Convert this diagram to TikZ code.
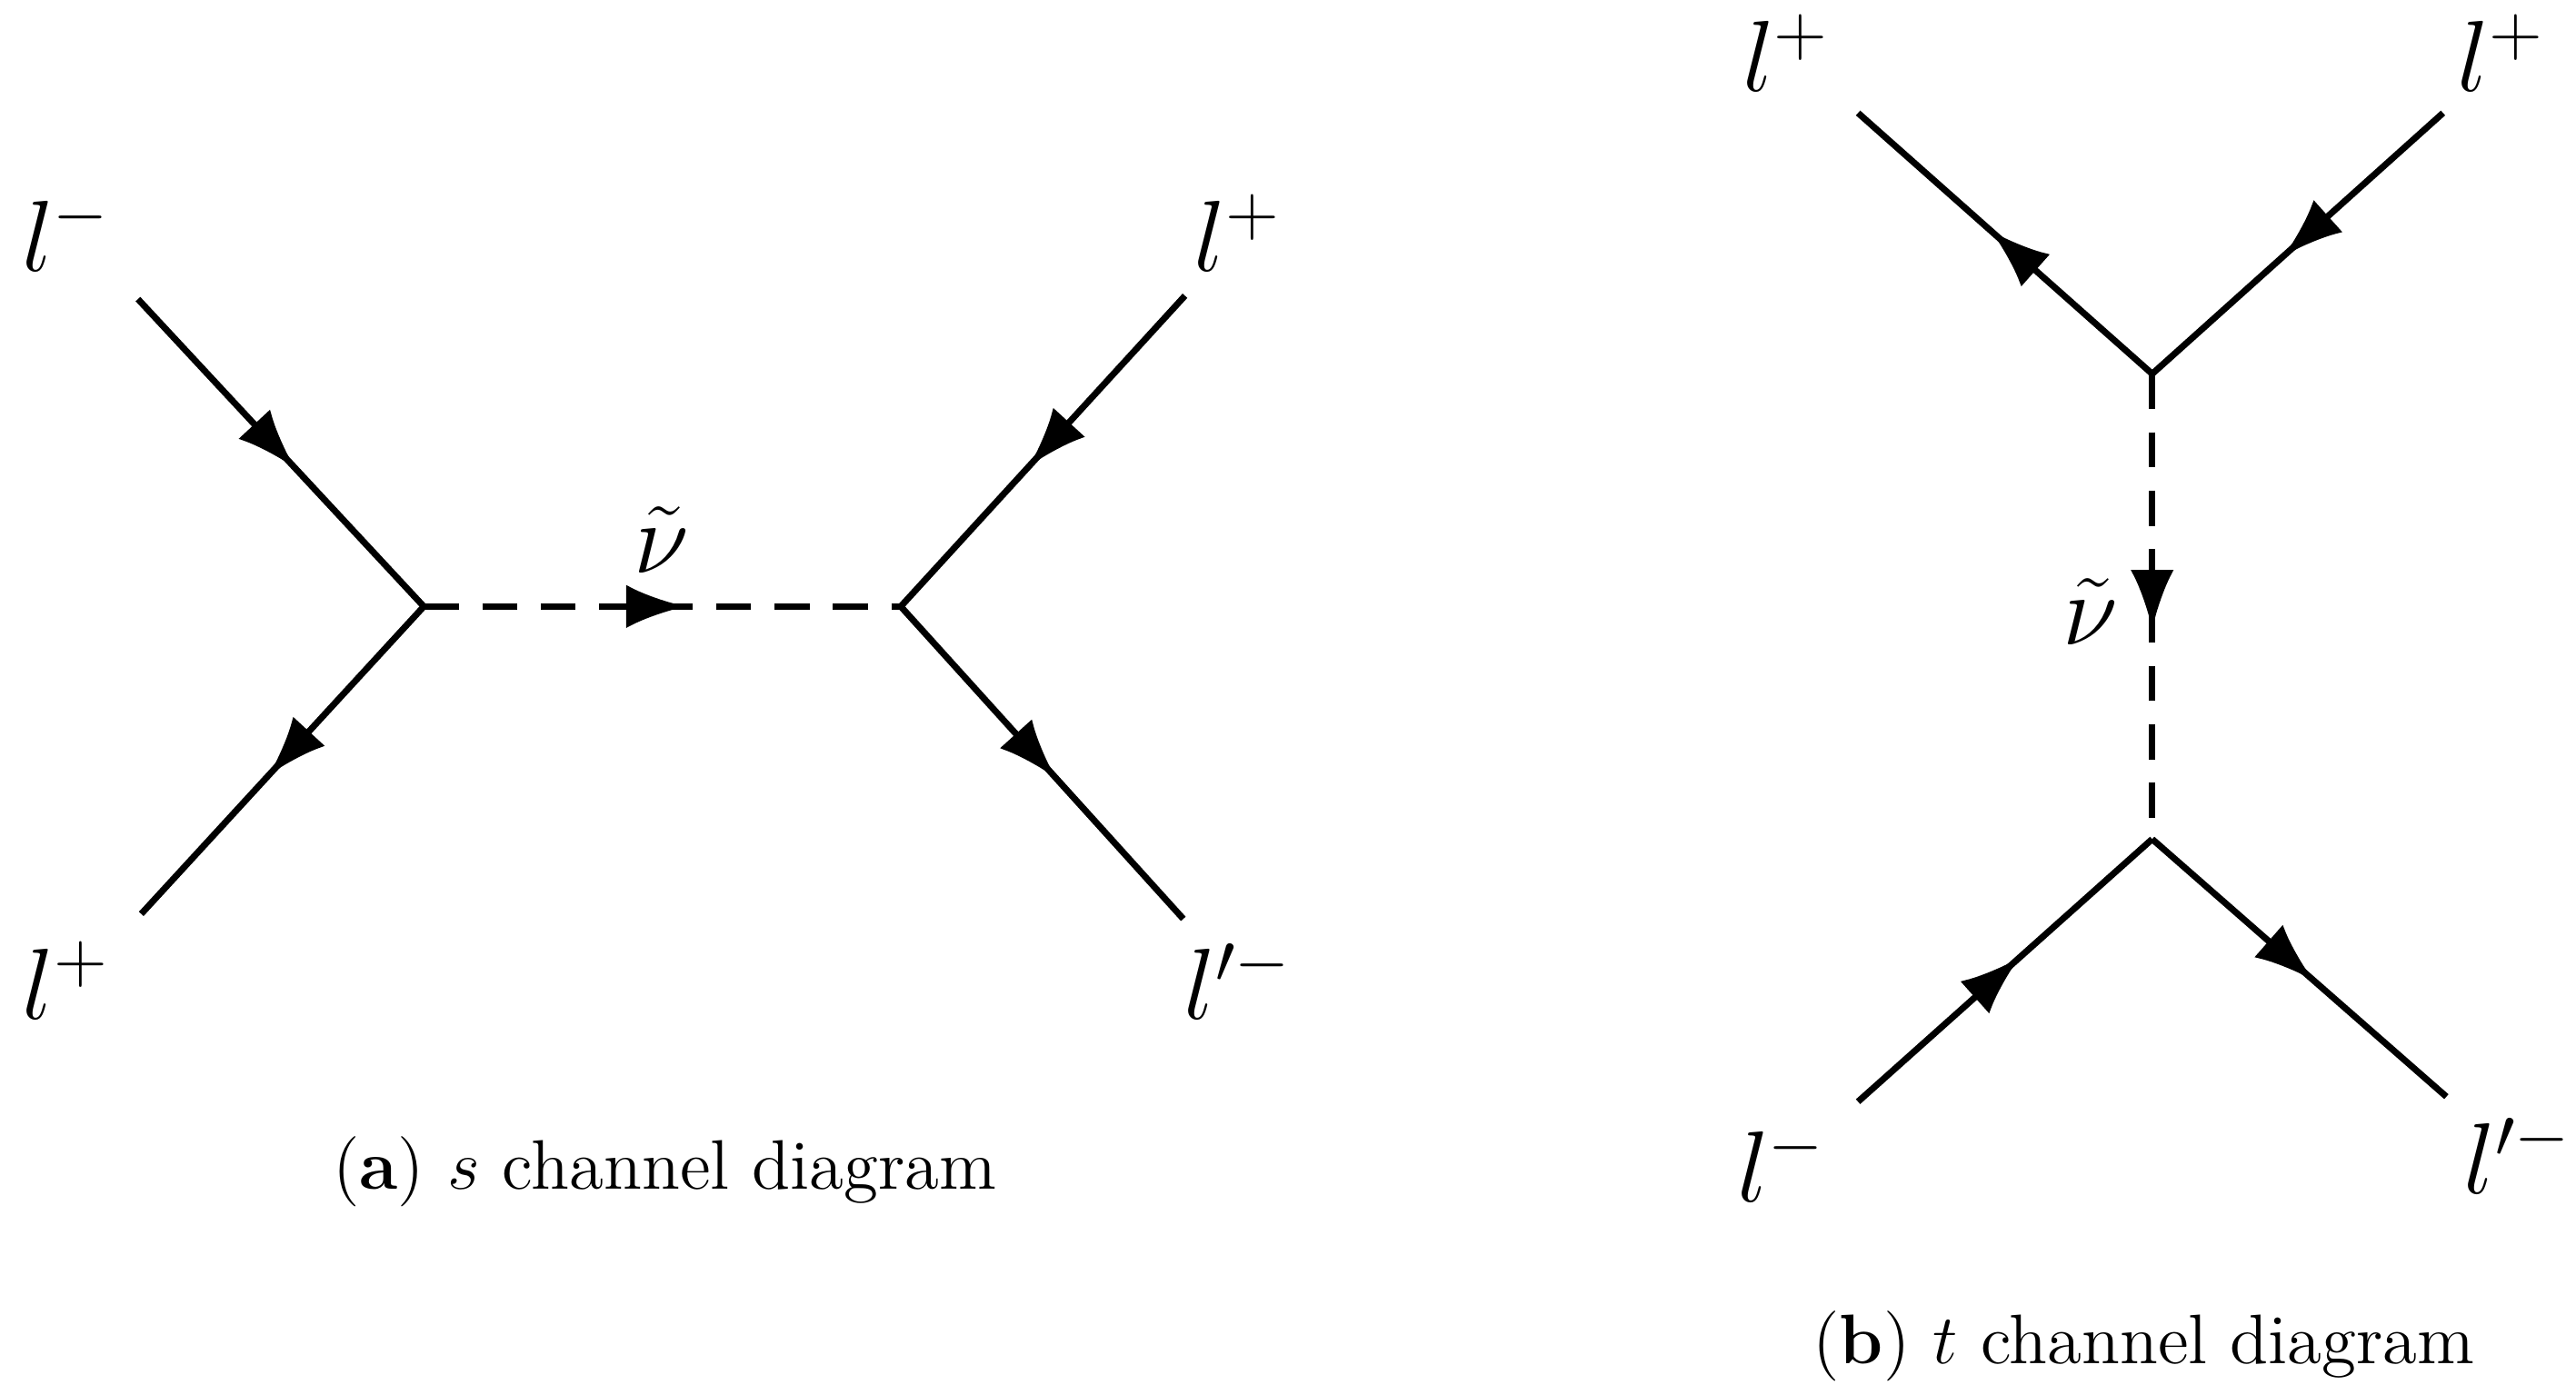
\documentclass[tikz,border=0pt]{standalone}
\usepackage{amsmath}
\usetikzlibrary{positioning}
\usetikzlibrary{calc}
\usetikzlibrary{arrows.meta}
\usetikzlibrary{decorations.markings}

\tikzset{
    fermion/.style={line width=1.1pt, postaction={decorate},
        decoration={markings, mark=at position 0.55 with {\arrow{Latex[length=0.36cm,width=0.26cm]}}}},
    scalar/.style={fermion, dashed, dash pattern=on 6pt off 4pt},
    lbl/.style={font=\LARGE},
    caption/.style={font=\large}
}

\begin{document}
\begin{tikzpicture}[x=0.01cm, y=-0.01cm]
    \useasboundingbox (0,0) rectangle (1550,839.5);

    % s channel: vertices and external ends
    \coordinate (va) at (255,365);
    \coordinate (vb) at (542,365);
    \coordinate (ina) at (83,180);
    \coordinate (outa) at (85,550);
    \coordinate (inb) at (713,178);
    \coordinate (outb) at (712,553);

    % s channel labels
    \node[lbl] (la) at (40,140) {$l^-$};
    \node[lbl] (lb) at (40,590) {$l^+$};
    \node[lbl] (lc) at (745,140) {$l^+$};
    \node[lbl] (ld) at (745,590) {$l'^-$};
    \node[lbl] (nua) at (398,325) {$\tilde{\nu}$};
    \node[caption] (capa) at (400,705) {(\textbf{a}) $s$ channel diagram};

    % s channel lines
    \draw[fermion] (ina) -- (va);
    \draw[fermion] (va) -- (outa);
    \draw[scalar] (va) -- (vb);
    \draw[fermion] (inb) -- (vb);
    \draw[fermion] (vb) -- (outb);

    % t channel: vertices and external ends
    \coordinate (vt) at (1295,225);
    \coordinate (vu) at (1295,505);
    \coordinate (tl) at (1118,68);
    \coordinate (tr) at (1470,68);
    \coordinate (bl) at (1118,663);
    \coordinate (br) at (1472,660);

    % t channel labels
    \node[lbl] (le) at (1075,32) {$l^+$};
    \node[lbl] (lf) at (1505,32) {$l^+$};
    \node[lbl] (lg) at (1072,700) {$l^-$};
    \node[lbl] (lh) at (1515,695) {$l'^-$};
    \node[lbl] (nub) at (1258,368) {$\tilde{\nu}$};
    \node[caption] (capb) at (1290,810) {(\textbf{b}) $t$ channel diagram};

    % t channel lines
    \draw[fermion] (vt) -- (tl);
    \draw[fermion] (tr) -- (vt);
    \draw[scalar] (vt) -- (vu);
    \draw[fermion] (bl) -- (vu);
    \draw[fermion] (vu) -- (br);
\end{tikzpicture}
\end{document}
